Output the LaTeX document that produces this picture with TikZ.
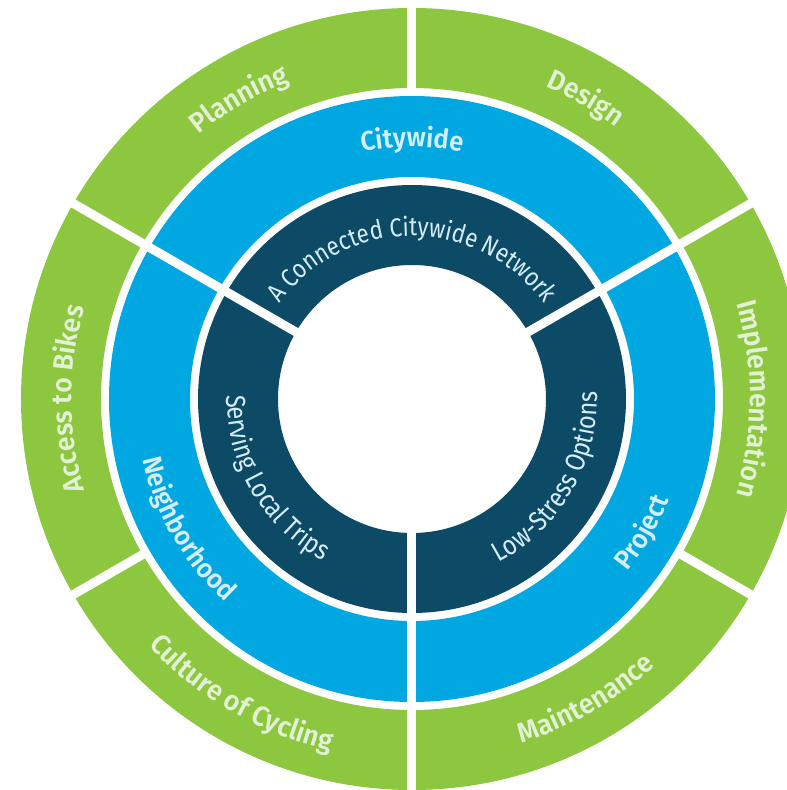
\documentclass[tikz,border=0pt]{standalone}
\usepackage{fontspec}
\setmainfont{Fira Sans}
\newfontfamily\labelbold{Fira Sans SemiBold}[FakeStretch=0.95]
\newfontfamily\labelreg{Fira Sans}[FakeStretch=0.86]
\usetikzlibrary{decorations.text}
\definecolor{ringgreen}{RGB}{141,198,63}
\definecolor{ringblue}{RGB}{0,167,224}
\definecolor{ringdark}{RGB}{13,74,101}
\definecolor{greentext}{RGB}{226,241,212}
\definecolor{bluetext}{RGB}{212,237,249}
\tikzset{
  gapline/.style={white, line width=9pt},
  ringlabel/.style={decorate, decoration={text along path, text align=center, text={#1}}}
}
\newcommand\greenfmt{\labelbold\fontsize{28}{28}\selectfont\color{greentext}}
\newcommand\bluefmt{\labelbold\fontsize{27}{27}\selectfont\color{bluetext}}
\newcommand\darkfmt{\labelreg\fontsize{27.5}{27.5}\selectfont\color{bluetext}}
\newcommand\darktopfmt{\labelreg\fontsize{26}{26}\selectfont\color{bluetext}}
% clockwise label (tops outward): #1 radius, #2 centre angle, #3 text
\newcommand\cwlabel[3]{\path[ringlabel={#3}] ({#2+85}:#1pt) arc[start angle={#2+85}, end angle={#2-85}, radius=#1pt];}
% counter-clockwise label (tops inward)
\newcommand\ccwlabel[3]{\path[ringlabel={#3}] ({#2-85}:#1pt) arc[start angle={#2-85}, end angle={#2+85}, radius=#1pt];}
\begin{document}
\begin{tikzpicture}[x=1pt,y=1pt]
\useasboundingbox (-412,-391) rectangle (375,399);
\clip (-412,-391) rectangle (375,399);
% rings
\fill[ringgreen, even odd rule] (0,0) circle (391pt) (0,0) circle (311pt);
\fill[ringblue, even odd rule] (0,0) circle (303pt) (0,0) circle (222pt);
\fill[ringdark, even odd rule] (0,0) circle (214pt) (0,0) circle (134pt);
% gaps
\foreach \a in {30,150,270} \draw[gapline] (\a:128pt) -- (\a:400pt);
\foreach \a in {90,210,330} \draw[gapline] (\a:306pt) -- (\a:400pt);
% green labels
\cwlabel{340}{120}{|\greenfmt|Planning}
\cwlabel{340}{60}{|\greenfmt|Design}
\cwlabel{338}{0}{|\greenfmt|Implementation}
\cwlabel{340}{180}{|\greenfmt|Access to Bikes}
\ccwlabel{361}{-60}{|\greenfmt|Maintenance}
\ccwlabel{361}{240}{|\greenfmt|Culture of Cycling}
% blue labels
\cwlabel{252}{90}{|\bluefmt|Citywide}
\ccwlabel{276}{210}{|\bluefmt|Neighborhood}
\ccwlabel{276}{-30}{|\bluefmt|Project}
% dark labels
\cwlabel{163}{90}{|\darktopfmt|A Connected Citywide Network}
\ccwlabel{185}{210}{|\darkfmt|Serving Local Trips}
\ccwlabel{185}{-30}{|\darkfmt|Low-Stress Options}
\end{tikzpicture}
\end{document}
